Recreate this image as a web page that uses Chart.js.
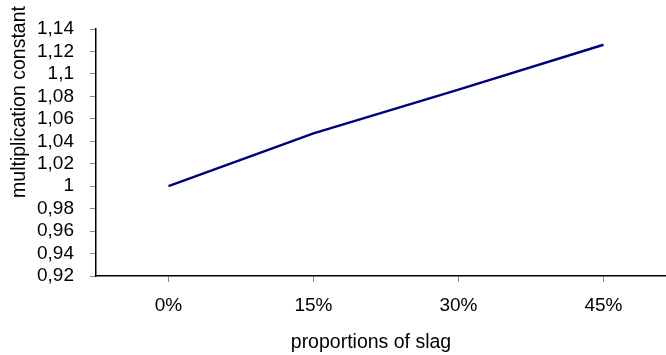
<!DOCTYPE html>
<html>
<head>
<meta charset="utf-8">
<script src="https://cdn.jsdelivr.net/npm/chart.js@4"></script>
<style>
  body { margin: 0; background: #fff; }
  #wrap { width: 666px; height: 355px; overflow: hidden; }
</style>
</head>
<body>
<div id="wrap"><canvas id="myChart" width="676" height="355"></canvas></div>
<script>
// valeurs
var categorias = ['0%', '15%', '30%', '45%'];
var constante = [1.0, 1.047, 1.086, 1.126];
var yMin = 0.92, yMax = 1.14, yStep = 0.02;
var tituloX = 'proportions of slag';
var tituloY = 'multiplication constant';

var fonte = '"Liberation Sans", Arial, sans-serif';

// titulos dos eixos desenhados a mao (posicao fora do centro no original)
var titulos = {
  id: 'titulos',
  afterDraw: function (chart) {
    var c = chart.ctx;
    c.save();
    c.fillStyle = '#000';
    c.font = '19.5px ' + fonte;
    c.textAlign = 'center';
    c.textBaseline = 'middle';
    c.fillText(tituloX, 371, 343);
    c.translate(20, 102);
    c.rotate(-Math.PI / 2);
    c.fillText(tituloY, 0, 0);
    c.restore();
  }
};

var ctx = document.getElementById('myChart').getContext('2d');
var chart = new Chart(ctx, {
  type: 'line',
  data: {
    labels: categorias,
    datasets: [{
      data: constante,
      borderColor: '#000080',
      borderWidth: 2.5,
      pointRadius: 0,
      fill: false,
      tension: 0
    }]
  },
  options: {
    responsive: false,
    animation: false,
    layout: { padding: { top: 29, right: 0, left: 0, bottom: 0 } },
    plugins: { legend: { display: false }, tooltip: { enabled: false } },
    scales: {
      x: {
        offset: true,
        grid: { drawOnChartArea: false, drawTicks: true, tickLength: 6, color: '#888', offset: false },
        border: { display: true, color: '#000', width: 1.5 },
        ticks: { color: '#000', padding: 12, autoSkip: false, maxRotation: 0, font: { family: fonte, size: 19 } },
        afterFit: function (s) { s.height = 79; }
      },
      y: {
        min: yMin,
        max: yMax,
        grid: { drawOnChartArea: false, drawTicks: true, tickLength: 6, color: '#888' },
        border: { display: true, color: '#000', width: 1.5 },
        ticks: {
          stepSize: yStep,
          autoSkip: false,
          color: '#000',
          padding: 16,
          font: { family: fonte, size: 19 },
          callback: function (v) { return String(parseFloat(v.toFixed(2))).replace('.', ','); }
        },
        afterFit: function (s) { s.width = 96; }
      }
    }
  },
  plugins: [titulos]
});
</script>
</body>
</html>
